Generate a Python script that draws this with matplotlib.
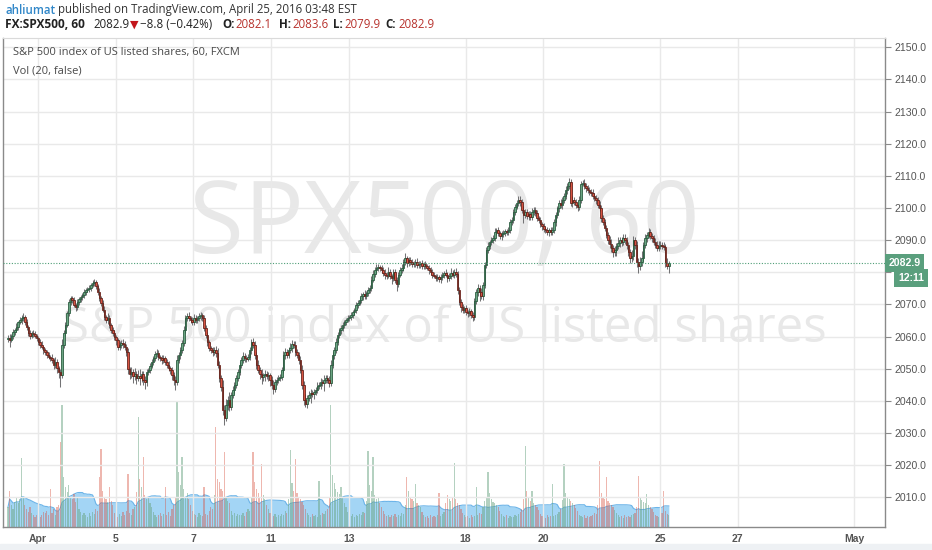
import numpy as np
import pandas as pd
import matplotlib
matplotlib.use("Agg")
import matplotlib.pyplot as plt
from matplotlib.patches import Rectangle
from matplotlib.transforms import blended_transform_factory

# hourly closes, FX:SPX500 (60), one row per 23 bars
close = [
    2059.6, 2058.9, 2060.2, 2061.4, 2062.1, 2063.0, 2064.5, 2065.1, 2065.8, 2066.1, 2064.5, 2062.9, 2061.1, 2060.2, 2061.1, 2060.8, 2060.2, 2059.6, 2058.3, 2057.4, 2056.7, 2055.8, 2055.2,
    2054.2, 2053.7, 2053.4, 2052.7, 2051.2, 2052.1, 2050.2, 2049.0, 2048.0, 2057.4, 2061.0, 2063.6, 2067.3, 2070.8, 2071.9, 2071.3, 2069.8, 2069.2, 2070.8, 2071.6, 2072.3, 2072.9, 2073.8,
    2074.5, 2074.8, 2075.1, 2076.0, 2076.7, 2077.0, 2075.7, 2073.8, 2071.9, 2070.5, 2068.3, 2066.1, 2065.1, 2065.8, 2063.6, 2062.0, 2061.1, 2059.9, 2058.9, 2056.7, 2057.4, 2058.0, 2057.7,
    2056.7, 2055.2, 2049.9, 2048.3, 2049.0, 2047.7, 2048.3, 2047.1, 2047.7, 2047.1, 2048.3, 2046.5, 2045.8, 2049.0, 2049.6, 2050.9, 2052.1, 2053.4, 2054.6, 2054.9, 2053.7, 2053.4, 2052.7,
    2053.4, 2052.1, 2051.2, 2050.2, 2049.6, 2048.0, 2046.5, 2045.8, 2052.7, 2054.2, 2055.8, 2058.0, 2062.0, 2065.8, 2066.4, 2065.8, 2065.1, 2064.5, 2065.8, 2065.1, 2065.8, 2066.4, 2066.7,
    2065.8, 2062.6, 2060.5, 2058.3, 2056.4, 2055.8, 2055.2, 2055.8, 2054.9, 2051.2, 2047.1, 2044.4, 2037.1, 2034.6, 2038.7, 2040.3, 2038.1, 2041.8, 2043.4, 2044.9, 2047.1, 2049.0, 2051.2,
    2052.7, 2054.0, 2053.4, 2053.1, 2053.7, 2055.8, 2058.3, 2057.4, 2054.2, 2051.2, 2049.6, 2048.3, 2047.4, 2048.0, 2048.3, 2047.7, 2048.0, 2046.5, 2044.9, 2043.7, 2045.8, 2046.5, 2047.1,
    2047.4, 2049.6, 2054.2, 2055.2, 2054.2, 2055.8, 2056.4, 2057.7, 2057.4, 2055.2, 2054.2, 2052.7, 2049.6, 2045.0, 2040.3, 2039.0, 2040.9, 2041.8, 2042.5, 2042.2, 2042.8, 2043.4, 2044.7,
    2044.9, 2045.8, 2045.5, 2046.5, 2047.1, 2046.5, 2045.5, 2051.2, 2054.2, 2055.8, 2058.3, 2060.5, 2062.0, 2062.6, 2063.6, 2064.5, 2065.1, 2065.8, 2066.1, 2066.7, 2067.6, 2068.3, 2069.8,
    2070.5, 2071.3, 2072.6, 2073.2, 2072.6, 2073.5, 2074.5, 2075.1, 2077.6, 2079.5, 2080.7, 2081.4, 2081.7, 2081.4, 2080.7, 2079.8, 2079.2, 2078.9, 2080.1, 2078.9, 2078.2, 2080.1, 2077.6,
    2076.3, 2079.2, 2080.7, 2081.4, 2083.2, 2084.4, 2082.8, 2083.8, 2083.2, 2082.5, 2082.8, 2083.2, 2082.2, 2082.5, 2082.8, 2081.9, 2082.5, 2081.9, 2081.4, 2080.7, 2080.1, 2079.2, 2078.9,
    2078.2, 2078.5, 2077.9, 2078.5, 2079.2, 2079.8, 2079.2, 2078.2, 2078.9, 2079.8, 2079.2, 2080.1, 2079.5, 2074.5, 2070.8, 2069.2, 2068.3, 2068.9, 2067.6, 2067.3, 2068.0, 2066.7, 2066.1,
    2071.1, 2073.8, 2075.1, 2073.8, 2072.6, 2076.0, 2082.2, 2086.9, 2088.2, 2089.4, 2090.0, 2090.6, 2092.5, 2093.1, 2092.2, 2091.2, 2091.9, 2092.2, 2092.8, 2092.5, 2093.1, 2095.6, 2096.3,
    2098.8, 2100.4, 2101.6, 2102.6, 2102.0, 2099.4, 2097.8, 2098.8, 2097.5, 2098.2, 2097.2, 2098.8, 2099.4, 2098.5, 2096.9, 2096.3, 2095.0, 2094.4, 2093.4, 2093.1, 2092.5, 2093.1, 2092.5,
    2093.1, 2095.6, 2097.8, 2099.9, 2101.5, 2100.9, 2102.5, 2103.7, 2105.6, 2106.9, 2108.1, 2101.5, 2102.5, 2101.9, 2100.9, 2100.3, 2102.5, 2107.5, 2107.8, 2106.9, 2106.2, 2105.6, 2105.0,
    2104.7, 2103.7, 2103.1, 2102.5, 2100.9, 2099.9, 2096.9, 2095.6, 2093.8, 2091.6, 2090.0, 2088.7, 2087.5, 2086.3, 2086.9, 2088.2, 2089.0, 2090.0, 2089.4, 2090.6, 2090.0, 2088.5, 2086.3,
    2084.4, 2085.0, 2090.0, 2088.5, 2083.2, 2081.9, 2083.2, 2084.4, 2088.5, 2090.6, 2091.6, 2092.5, 2091.2, 2090.6, 2089.4, 2088.5, 2087.6, 2088.2, 2088.5, 2088.2, 2087.9, 2082.8, 2082.1,
    2082.9,
]
first_open = 2059.2

# wick lengths above / below the body
upper_wick = [
    0.8, 1.2, 0.6, 0.9, 0.7, 1.1, 0.5, 0.9, 0.8, 1.3, 0.6, 0.9, 0.7, 1.0, 0.5, 0.8, 1.0, 0.6, 0.7, 0.9, 1.2, 0.5, 0.8,
    0.6, 0.9, 0.7, 1.1, 0.5, 1.4, 0.8, 0.6, 0.9, 1.8, 1.2, 0.9, 0.8, 1.0, 0.7, 0.6, 1.1, 0.8, 0.9, 0.7, 0.6, 0.8, 0.9,
    0.7, 0.6, 0.9, 0.8, 1.0, 0.9, 0.7, 0.6, 1.2, 0.8, 0.9, 1.1, 0.7, 1.5, 0.8, 0.6, 0.9, 1.0, 0.7, 0.8, 1.2, 0.9, 1.4,
    0.8, 1.0, 1.2, 0.7, 1.6, 0.9, 2.0, 1.1, 1.8, 2.2, 1.0, 0.9, 1.3, 0.8, 0.7, 0.9, 1.0, 0.6, 0.8, 1.2, 0.9, 0.7, 0.8,
    0.9, 0.7, 0.8, 1.1, 0.6, 0.9, 1.0, 1.2, 1.5, 1.1, 0.9, 1.0, 1.4, 0.8, 0.9, 1.2, 0.7, 0.9, 1.1, 0.8, 0.7, 0.9, 0.8,
    0.7, 0.8, 1.0, 0.9, 0.7, 0.8, 1.0, 0.9, 1.2, 1.5, 1.3, 1.0, 2.0, 1.5, 1.8, 1.2, 2.4, 1.0, 1.1, 0.9, 0.8, 1.0, 0.9,
    0.8, 1.2, 0.9, 1.0, 0.8, 1.1, 1.0, 1.3, 1.2, 0.9, 1.4, 1.0, 1.6, 0.8, 1.2, 1.0, 0.9, 0.8, 1.1, 1.5, 0.9, 0.8, 1.0,
    0.9, 1.0, 1.3, 1.2, 0.9, 1.0, 1.6, 1.2, 0.9, 1.1, 0.8, 1.0, 1.2, 1.5, 1.1, 1.8, 1.0, 1.2, 1.3, 0.9, 1.0, 0.8, 1.1,
    0.9, 1.2, 1.0, 1.4, 0.8, 1.0, 1.3, 1.5, 1.1, 0.9, 1.2, 1.0, 0.8, 1.1, 0.9, 0.7, 0.8, 1.0, 0.7, 0.9, 0.8, 0.7, 1.0,
    0.8, 0.9, 1.0, 0.7, 1.2, 0.8, 0.9, 1.0, 1.3, 1.1, 0.8, 1.2, 1.0, 0.7, 0.9, 0.8, 1.1, 0.9, 1.4, 0.8, 0.7, 1.0, 0.9,
    1.0, 0.8, 0.9, 1.2, 1.0, 1.6, 0.8, 1.1, 0.9, 1.0, 0.7, 0.8, 1.2, 0.9, 0.7, 1.0, 0.8, 0.9, 0.7, 0.8, 1.0, 0.9, 0.8,
    0.7, 0.9, 0.8, 1.0, 0.9, 0.7, 1.2, 0.8, 1.0, 1.4, 0.9, 1.0, 1.1, 0.8, 1.0, 0.9, 0.8, 0.7, 0.9, 0.8, 1.0, 0.7, 0.9,
    1.0, 0.9, 1.2, 0.8, 1.4, 1.0, 1.1, 0.9, 1.2, 0.8, 1.0, 0.9, 1.3, 0.8, 1.0, 0.7, 0.9, 1.0, 0.8, 0.7, 0.9, 1.1, 1.0,
    0.9, 1.0, 0.8, 1.2, 1.0, 0.8, 1.1, 0.9, 1.0, 0.8, 1.0, 1.2, 0.9, 0.8, 1.0, 0.7, 0.9, 0.8, 1.0, 0.7, 0.9, 0.8, 1.0,
    0.9, 1.0, 1.1, 0.8, 1.0, 1.2, 0.9, 1.0, 1.1, 0.9, 1.3, 1.0, 1.2, 0.9, 1.0, 0.8, 1.1, 1.0, 0.9, 1.2, 0.8, 1.0, 0.9,
    0.8, 1.1, 0.9, 1.0, 0.8, 1.2, 1.0, 0.9, 1.1, 0.9, 1.0, 1.3, 1.6, 1.0, 1.2, 0.9, 2.0, 1.1, 1.0, 1.4, 1.2, 0.9, 1.0,
    1.1, 2.0, 1.2, 1.0, 1.3, 1.1, 1.5, 2.2, 1.0, 1.2, 0.9, 1.4, 1.1, 0.9, 1.0, 1.3, 1.2, 1.5, 1.1, 0.9, 1.2, 1.0, 1.5,
    0.7,
]
lower_wick = [
    0.9, 2.2, 0.7, 1.0, 0.8, 0.6, 0.9, 0.7, 1.1, 0.8, 0.9, 0.7, 1.0, 0.8, 0.6, 0.9, 0.7, 1.0, 0.8, 0.9, 0.7, 1.1, 0.8,
    0.9, 0.7, 1.0, 0.8, 1.2, 0.9, 1.5, 1.8, 3.8, 1.0, 0.8, 0.9, 0.7, 0.8, 1.0, 0.9, 0.7, 1.1, 0.8, 0.9, 0.7, 0.8, 0.9,
    0.8, 0.7, 0.9, 0.8, 0.7, 0.9, 0.8, 1.0, 0.9, 1.1, 0.8, 1.0, 0.9, 1.2, 0.8, 1.0, 0.9, 1.1, 1.5, 0.8, 1.0, 0.9, 1.2,
    1.0, 1.2, 1.4, 1.6, 1.1, 2.0, 1.3, 1.8, 1.0, 2.2, 1.2, 1.6, 2.0, 1.1, 0.9, 1.0, 0.8, 0.9, 1.1, 0.8, 1.0, 0.9, 1.2,
    0.9, 1.1, 1.0, 0.8, 1.2, 1.4, 1.6, 2.4, 1.0, 0.9, 1.1, 0.8, 1.0, 0.9, 1.1, 0.8, 1.0, 0.9, 0.8, 1.0, 0.9, 0.8, 1.1,
    0.9, 1.0, 0.8, 1.1, 0.9, 1.0, 1.2, 0.9, 1.4, 1.0, 1.3, 1.2, 1.5, 2.2, 1.0, 1.6, 1.2, 1.0, 0.9, 1.1, 0.8, 1.0, 0.9,
    1.0, 0.9, 1.2, 1.0, 0.8, 0.9, 1.1, 1.0, 1.2, 1.4, 1.0, 1.6, 2.2, 1.2, 1.8, 1.0, 1.4, 2.0, 1.2, 1.6, 1.0, 0.9, 1.1,
    0.8, 1.0, 0.9, 1.1, 0.8, 1.0, 0.9, 1.2, 1.0, 1.1, 0.9, 1.3, 1.0, 1.2, 1.5, 1.0, 1.2, 0.9, 2.4, 1.0, 1.5, 1.0, 1.1,
    0.9, 1.2, 1.0, 2.5, 0.9, 1.1, 1.3, 1.0, 0.9, 1.1, 0.8, 1.0, 0.9, 1.2, 0.8, 1.0, 0.9, 0.7, 0.8, 1.0, 0.9, 0.8, 0.9,
    1.0, 0.8, 0.9, 1.1, 0.8, 0.9, 1.0, 0.8, 0.9, 0.7, 0.9, 0.8, 1.0, 0.9, 0.8, 1.0, 1.2, 0.9, 0.8, 1.0, 1.8, 0.9, 1.0,
    2.2, 0.9, 0.8, 1.0, 0.9, 0.8, 1.1, 0.9, 1.0, 0.8, 0.9, 1.0, 0.8, 0.9, 1.1, 0.8, 1.0, 0.9, 0.8, 1.1, 0.9, 1.0, 0.8,
    1.0, 0.9, 0.8, 1.1, 0.9, 1.0, 0.8, 1.2, 0.9, 1.0, 0.8, 0.9, 1.0, 1.2, 1.0, 1.4, 0.9, 1.1, 1.0, 1.2, 0.9, 1.0, 1.3,
    1.0, 0.9, 1.2, 2.6, 1.0, 1.1, 0.9, 1.0, 0.8, 1.1, 0.9, 0.8, 1.0, 0.9, 1.0, 0.8, 1.1, 0.9, 0.8, 1.0, 0.9, 0.8, 1.0,
    0.9, 1.0, 0.8, 1.1, 1.3, 1.0, 2.4, 0.9, 1.0, 1.1, 0.8, 1.0, 0.9, 1.1, 0.8, 1.0, 0.9, 1.2, 0.8, 1.0, 0.9, 1.1, 0.8,
    1.0, 0.9, 1.1, 0.8, 1.0, 0.9, 1.1, 1.0, 0.9, 1.2, 1.0, 0.9, 1.1, 1.0, 0.8, 1.2, 0.9, 1.0, 0.8, 1.1, 1.2, 1.0, 0.9,
    1.0, 0.8, 0.9, 1.1, 1.0, 0.9, 1.2, 1.0, 1.1, 0.9, 1.3, 1.0, 1.2, 1.4, 1.1, 1.8, 1.0, 1.2, 1.1, 1.0, 1.3, 1.2, 1.1,
    1.4, 1.1, 1.3, 1.2, 1.6, 2.0, 1.2, 1.1, 1.0, 0.9, 1.1, 1.0, 0.9, 1.2, 1.0, 0.9, 1.1, 1.0, 0.8, 1.0, 1.1, 1.3, 1.0,
    2.2,
]

# volume per bar (relative units)
volume = [
    20, 36, 22, 18, 25, 30, 24, 28, 69, 30, 22, 18, 15, 20, 14, 12, 10, 12, 14, 10, 12, 15, 14,
    16, 12, 38, 14, 18, 12, 20, 22, 85, 122, 50, 40, 35, 42, 30, 28, 33, 25, 30, 18, 15, 12, 14,
    12, 10, 14, 11, 15, 13, 18, 16, 50, 78, 36, 30, 28, 25, 40, 26, 22, 14, 12, 10, 13, 11, 15,
    12, 16, 53, 14, 12, 18, 20, 35, 110, 48, 40, 70, 32, 28, 30, 24, 20, 15, 12, 10, 12, 14, 11,
    13, 40, 12, 15, 11, 18, 22, 30, 125, 55, 42, 70, 38, 30, 34, 28, 22, 16, 13, 12, 10, 14, 12,
    11, 40, 13, 12, 16, 20, 18, 32, 100, 48, 45, 38, 36, 75, 30, 26, 24, 16, 12, 14, 11, 13, 12,
    12, 14, 11, 15, 18, 16, 30, 75, 45, 38, 34, 30, 63, 32, 28, 22, 18, 14, 12, 11, 13, 10, 12,
    11, 13, 12, 16, 14, 28, 77, 44, 36, 68, 34, 30, 28, 25, 22, 18, 14, 12, 10, 13, 11, 12, 10,
    46, 12, 14, 13, 16, 18, 30, 122, 52, 44, 38, 35, 33, 40, 30, 24, 20, 15, 12, 11, 13, 10, 12,
    11, 13, 12, 15, 14, 26, 76, 42, 36, 70, 32, 28, 30, 24, 20, 16, 13, 11, 12, 10, 12, 11, 13,
    10, 12, 11, 14, 13, 22, 50, 36, 30, 28, 26, 43, 24, 22, 20, 15, 12, 10, 11, 9, 12, 10, 11,
    10, 12, 34, 11, 13, 15, 24, 32, 28, 26, 30, 64, 28, 24, 22, 18, 14, 12, 10, 11, 9, 12, 10,
    11, 40, 12, 14, 13, 20, 26, 30, 55, 34, 28, 25, 24, 22, 20, 16, 13, 11, 10, 12, 9, 11, 10,
    10, 12, 11, 13, 15, 18, 28, 81, 36, 30, 26, 36, 24, 22, 20, 17, 13, 11, 10, 9, 12, 10, 11,
    43, 11, 12, 13, 15, 18, 27, 63, 34, 30, 28, 26, 24, 22, 19, 16, 12, 11, 10, 12, 9, 11, 10,
    11, 12, 14, 13, 22, 66, 34, 30, 28, 50, 26, 24, 22, 20, 17, 14, 12, 10, 11, 9, 12, 10, 11,
    10, 12, 13, 14, 20, 51, 30, 27, 25, 24, 33, 22, 20, 18, 15, 12, 11, 10, 12, 14, 36, 16, 13,
    12,
]

day_labels = ["Apr", "5", "7", "11", "13", "18", "20", "25", "27", "May"]
day_number = [0, 2, 4, 6, 8, 11, 13, 16, 18, 21]   # trading days after Apr 1
price_ticks = list(range(2010, 2151, 10))
last_price = 2082.9

bars_per_day = 23
apr1_bar = 17.75

c = np.array(close)
o = np.r_[first_open, c[:-1]]
x = np.arange(len(c))
hi = np.maximum(o, c) + np.array(upper_wick)
lo = np.minimum(o, c) - np.array(lower_wick)
up = c >= o
vol = np.array(volume, dtype=float)
vol_ma = pd.Series(vol).rolling(20, min_periods=1).mean().values

W, H = 932, 550
fig = plt.figure(figsize=(W / 100, H / 100), dpi=100, facecolor="white")
ax2 = fig.add_axes([3 / W, 23 / H, 882 / W, 489 / H])
ax = fig.add_axes([3 / W, 23 / H, 882 / W, 489 / H], sharex=ax2)
ax.patch.set_visible(False)

# volume pane (bottom overlay)
ax2.set_ylim(0, 489)
ax2.fill_between(x, 0, vol_ma, color="#a3d5f5", lw=0, zorder=1)
ax2.plot(x, vol_ma, color="#6cb4e8", lw=0.8, zorder=1.1)
ax2.bar(x[up], vol[up], width=0.7, color="#6ba583", alpha=0.5, lw=0, zorder=2)
ax2.bar(x[~up], vol[~up], width=0.7, color="#d75442", alpha=0.42, lw=0, zorder=2)
ax2.set_yticks([])
ax2.tick_params(axis="x", length=0, labelbottom=False)
for s in ax2.spines.values():
    s.set_visible(False)

# watermark
ax2.text(0.5, 0.615, "SPX500, 60", transform=ax2.transAxes, ha="center", va="center",
         fontsize=72, family="Open Sans", color="#e8e8e8", zorder=0)
ax2.text(0.5, 0.405, "S&P 500 index of US listed shares", transform=ax2.transAxes,
         ha="center", va="center", fontsize=35.5, family="Open Sans", color="#e8e8e8", zorder=0)

# candles
ax.vlines(x, lo, hi, color="#737375", lw=0.75, zorder=3)
body = np.maximum(np.abs(c - o), 0.2)
ax.bar(x[up], body[up], bottom=np.minimum(o, c)[up], width=0.9, color="#6ba583",
       edgecolor="#225437", lw=0.55, zorder=4)
ax.bar(x[~up], body[~up], bottom=np.minimum(o, c)[~up], width=0.9, color="#d75442",
       edgecolor="#5b1a13", lw=0.55, zorder=4)

ax.set_xlim(-2.96, 518.9)
ax.set_ylim(2000.75, 2152.9)

tick_pos = [apr1_bar + bars_per_day * d for d in day_number]
ax.set_xticks(tick_pos)
ax.set_xticklabels(day_labels)
ax.set_yticks(price_ticks)
# the 2080.0 label sits under the last-price boxes
ax.set_yticklabels(["" if v == 2080 else f"{v:.1f}" for v in price_ticks])
ax.yaxis.tick_right()
ax.tick_params(axis="y", length=4, width=0.8, color="#8a8a8a", labelsize=7.6,
               labelcolor="#555555", pad=3)
ax.tick_params(axis="x", length=0, labelsize=7.5, labelcolor="#555555", pad=5)
for lab in ax.get_xticklabels():
    lab.set_fontweight("bold")
    lab.set_family("Liberation Sans")
for lab in ax.get_yticklabels():
    lab.set_family("Liberation Sans")
ax.grid(True, color="#e9e9e9", lw=1.0, zorder=0)
ax.set_axisbelow(True)
for side in ["left", "bottom", "right"]:
    ax.spines[side].set_color("#8a8a8a")
    ax.spines[side].set_linewidth(1.0)
ax.spines["top"].set_color("#dadada")

# last price line + labels
ax.axhline(last_price, color="#4f9e77", lw=0.8, ls=(0, (1, 1.5)), zorder=5)
tr = blended_transform_factory(ax.transAxes, ax.transData)
ax.text(1.004, last_price, f"{last_price:.1f}", transform=tr, ha="left", va="center",
        fontsize=7.6, color="white", family="Liberation Sans", fontweight="bold", zorder=10,
        bbox=dict(boxstyle="square,pad=0.35", fc="#5a9f7d", ec="none"))
ax.annotate("12:11", xy=(1.0, last_price), xycoords=tr, xytext=(13, -15),
            textcoords="offset pixels", ha="left", va="center", fontsize=7.6, color="white",
            family="Liberation Sans", fontweight="bold", zorder=10, annotation_clip=False,
            bbox=dict(boxstyle="square,pad=0.35", fc="#5a9f7d", ec="none"))

# header lines
def ftext(px, py, s, **kw):
    kw.setdefault("family", ["Open Sans", "DejaVu Sans"])
    kw.setdefault("fontsize", 8.3)
    kw.setdefault("color", "#333333")
    fig.text(px / W, 1 - py / H, s, ha="left", va="center", **kw)

red = "#b7312c"
ftext(5, 10, "ahliumat", color="#2f86c8", fontweight="semibold")
ftext(58, 10, "published on TradingView.com, April 25, 2016 03:48 EST")
ftext(5, 25, "FX:SPX500, 60", fontweight="bold", color="#222222", fontsize=8.6)
ftext(93, 25, "2082.9", color="#222222")
ftext(130, 25, "\u25bc", color="#c3161c", family=["DejaVu Sans"], fontsize=8)
ftext(140, 25, "\u22128.8 (\u22120.42%)", color="#222222")
ftext(222, 25, "O:", fontweight="bold", color="#222222")
ftext(235, 25, "2082.1", color=red)
ftext(279, 25, "H:", fontweight="bold", color="#222222")
ftext(292, 25, "2083.6", color=red)
ftext(333, 25, "L:", fontweight="bold", color="#222222")
ftext(344, 25, "2079.9", color=red)
ftext(385, 25, "C:", fontweight="bold", color="#222222")
ftext(398, 25, "2082.9", color=red)

ftext(13, 53, "S&P 500 index of US listed shares, 60, FXCM", color="#4a4a4a", fontsize=8)
ftext(13, 71, "Vol (20, false)", color="#4a4a4a", fontsize=8)

fig.patches.append(Rectangle((0, 0), 1, 6 / H, transform=fig.transFigure,
                             color="#eef1f4", zorder=0))

fig.savefig("out.png", dpi=100, facecolor="white")
